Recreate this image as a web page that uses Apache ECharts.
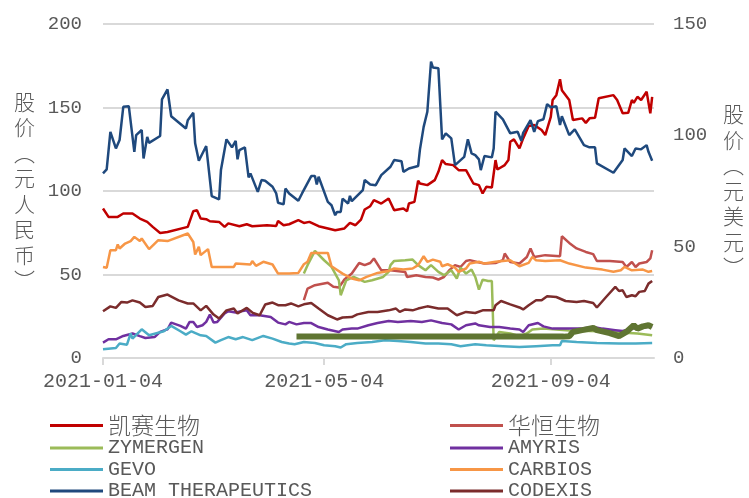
<!DOCTYPE html>
<html>
<head>
<meta charset="utf-8">
<script src="https://cdn.jsdelivr.net/npm/echarts@6/dist/echarts.min.js"></script>
<style>
  html, body { margin: 0; padding: 0; background: #fff; }
  #chart { width: 749px; height: 498px; }
</style>
</head>
<body>
<div id="chart"></div>
<script>
// x tick labels
const tickDates = ['2021-01-04', '2021-05-04', '2021-09-04'];

// left axis (RMB)
const kaisai = [['2021-01-04',89.5],['2021-01-07',84.5],['2021-01-12',84.5],['2021-01-15',86.5],['2021-01-20',86.5],['2021-01-24',83.5],['2021-01-28',81.5],['2021-01-31',78.5],['2021-02-04',74.9],['2021-02-08',75.5],['2021-02-19',78.5],['2021-02-22',87.9],['2021-02-24',88.5],['2021-02-26',83.5],['2021-03-01',83.1],['2021-03-03',81.9],['2021-03-08',81.5],['2021-03-11',78.5],['2021-03-13',80.6],['2021-03-19',78.9],['2021-03-23',80.1],['2021-03-26',78.9],['2021-04-03',79.5],['2021-04-08',79.1],['2021-04-09',82.1],['2021-04-12',79.5],['2021-04-15',80.1],['2021-04-20',82.5],['2021-04-23',80.9],['2021-04-26',81.5],['2021-05-01',78.9],['2021-05-10',76.5],['2021-05-15',77.6],['2021-05-18',80.9],['2021-05-21',79.5],['2021-05-24',82.9],['2021-05-26',88.9],['2021-05-29',90.9],['2021-05-31',94.5],['2021-06-04',92.5],['2021-06-08',95.5],['2021-06-11',88.5],['2021-06-16',89.5],['2021-06-18',87.9],['2021-06-19',92.5],['2021-06-22',93.5],['2021-06-24',106.1],['2021-06-25',104.5],['2021-06-29',103.5],['2021-07-03',106.5],['2021-07-05',111.5],['2021-07-07',118.5],['2021-07-09',116.1],['2021-07-13',115.5],['2021-07-16',112.5],['2021-07-20',112.5],['2021-07-24',104.5],['2021-07-27',103.5],['2021-07-29',98.5],['2021-07-31',102.5],['2021-08-03',102.1],['2021-08-05',118.5],['2021-08-06',112.9],['2021-08-10',115.5],['2021-08-12',118.5],['2021-08-13',129.5],['2021-08-15',130.9],['2021-08-18',125.5],['2021-08-20',131.5],['2021-08-23',138.9],['2021-08-26',139.5],['2021-08-30',136.5],['2021-09-01',133.5],['2021-09-04',144.4],['2021-09-05',154.5],['2021-09-07',157.4],['2021-09-09',166.9],['2021-09-10',160.4],['2021-09-14',154.5],['2021-09-16',142.5],['2021-09-21',143.5],['2021-09-23',140.8],['2021-09-25',143.5],['2021-09-28',143.8],['2021-09-30',155.5],['2021-10-08',157.4],['2021-10-10',154.5],['2021-10-13',146.5],['2021-10-16',146.8],['2021-10-18',154.5],['2021-10-19',152.8],['2021-10-21',156.4],['2021-10-23',154.5],['2021-10-26',159.4],['2021-10-28',146.5],['2021-10-29',156.4]];

const huaheng = [['2021-04-23',34.6],['2021-04-25',41.6],['2021-04-27',42.6],['2021-04-29',43.6],['2021-05-06',45.0],['2021-05-09',42.6],['2021-05-12',42.2],['2021-05-15',47.0],['2021-05-19',50.6],['2021-05-23',56.9],['2021-05-26',55.6],['2021-05-29',56.9],['2021-05-31',59.6],['2021-06-04',52.6],['2021-06-09',52.6],['2021-06-17',51.5],['2021-06-18',48.5],['2021-06-23',49.6],['2021-06-28',48.5],['2021-07-02',48.2],['2021-07-05',47.0],['2021-07-08',48.5],['2021-07-11',52.6],['2021-07-14',55.6],['2021-07-17',54.5],['2021-07-20',58.1],['2021-07-22',58.6],['2021-07-26',57.5],['2021-07-30',56.6],['2021-08-05',56.9],['2021-08-09',58.6],['2021-08-10',62.6],['2021-08-13',57.5],['2021-08-18',56.6],['2021-08-22',60.5],['2021-08-24',65.6],['2021-08-26',60.5],['2021-09-01',61.6],['2021-09-09',61.0],['2021-09-10',72.9],['2021-09-14',68.9],['2021-09-18',65.6],['2021-09-23',63.5],['2021-09-27',62.2],['2021-09-29',58.1],['2021-10-06',58.1],['2021-10-13',57.5],['2021-10-15',54.5],['2021-10-18',57.5],['2021-10-20',54.5],['2021-10-22',56.6],['2021-10-26',57.5],['2021-10-28',59.6],['2021-10-29',64.5]];

// right axis (USD)
const zymergen = [['2021-04-23',37.9],['2021-04-25',41.7],['2021-04-29',48.1],['2021-05-04',43.9],['2021-05-08',40.9],['2021-05-12',34.9],['2021-05-13',28.2],['2021-05-16',34.9],['2021-05-20',36.4],['2021-05-26',34.2],['2021-05-30',34.9],['2021-06-05',36.4],['2021-06-08',38.7],['2021-06-09',41.7],['2021-06-11',43.6],['2021-06-17',43.9],['2021-06-21',44.2],['2021-06-24',41.7],['2021-06-28',39.4],['2021-07-01',41.7],['2021-07-05',38.7],['2021-07-08',37.2],['2021-07-12',39.4],['2021-07-15',35.7],['2021-07-17',40.6],['2021-07-20',37.9],['2021-07-23',39.7],['2021-07-25',36.4],['2021-07-27',30.7],['2021-07-29',35.2],['2021-08-01',34.6],['2021-08-03',34.6],['2021-08-04',8.0],['2021-08-07',11.7],['2021-08-13',11.0],['2021-08-18',9.8],['2021-08-22',11.0],['2021-08-25',12.8],['2021-08-31',13.2],['2021-09-14',12.4],['2021-09-30',12.0],['2021-10-12',11.5],['2021-10-21',11.0],['2021-10-29',10.2]];

const amyris = [['2021-01-04',6.9],['2021-01-07',8.4],['2021-01-11',8.4],['2021-01-15',9.9],['2021-01-20',11.0],['2021-01-24',9.8],['2021-01-27',9.0],['2021-02-01',9.4],['2021-02-04',11.7],['2021-02-08',12.9],['2021-02-10',15.9],['2021-02-15',14.4],['2021-02-18',13.2],['2021-02-20',16.2],['2021-02-22',16.2],['2021-02-24',13.9],['2021-02-27',14.7],['2021-03-01',16.2],['2021-03-03',19.5],['2021-03-05',15.9],['2021-03-07',16.2],['2021-03-11',20.0],['2021-03-13',21.0],['2021-03-17',20.4],['2021-03-20',21.0],['2021-03-23',21.4],['2021-03-25',19.2],['2021-03-30',19.2],['2021-04-05',18.4],['2021-04-09',15.9],['2021-04-13',15.1],['2021-04-15',16.2],['2021-04-19',15.1],['2021-04-23',15.7],['2021-04-27',15.7],['2021-05-01',13.9],['2021-05-06',12.8],['2021-05-12',11.7],['2021-05-14',12.8],['2021-05-19',13.2],['2021-05-22',13.2],['2021-05-28',14.7],['2021-06-02',15.7],['2021-06-08',16.6],['2021-06-13',16.2],['2021-06-20',16.6],['2021-06-26',16.2],['2021-07-01',16.9],['2021-07-07',15.7],['2021-07-12',15.1],['2021-07-16',12.8],['2021-07-20',14.7],['2021-07-25',15.5],['2021-07-27',14.7],['2021-08-02',13.9],['2021-08-07',13.9],['2021-08-13',13.2],['2021-08-18',12.8],['2021-08-20',11.7],['2021-08-23',14.7],['2021-08-28',15.7],['2021-08-31',14.2],['2021-09-05',13.2],['2021-09-14',13.2],['2021-09-21',13.2],['2021-09-27',13.9],['2021-10-02',13.2],['2021-10-09',12.5],['2021-10-13',12.1],['2021-10-18',13.2],['2021-10-24',13.7],['2021-10-29',14.2]];

const gevo = [['2021-01-04',3.9],['2021-01-11',4.5],['2021-01-13',6.5],['2021-01-17',6.0],['2021-01-19',11.0],['2021-01-20',8.7],['2021-01-25',12.9],['2021-01-29',10.2],['2021-02-06',12.0],['2021-02-10',14.4],['2021-02-15',12.0],['2021-02-18',10.5],['2021-02-21',12.0],['2021-02-26',10.2],['2021-03-01',9.9],['2021-03-06',6.9],['2021-03-09',8.0],['2021-03-13',9.4],['2021-03-17',8.4],['2021-03-21',9.4],['2021-03-26',8.0],['2021-04-01',9.9],['2021-04-06',8.7],['2021-04-11',7.2],['2021-04-15',6.5],['2021-04-18',6.2],['2021-04-23',7.2],['2021-04-29',6.7],['2021-05-04',5.7],['2021-05-10',5.3],['2021-05-13',4.7],['2021-05-16',6.2],['2021-05-22',6.7],['2021-05-30',7.2],['2021-06-06',8.0],['2021-06-13',7.6],['2021-06-20',7.2],['2021-06-28',6.5],['2021-07-05',6.5],['2021-07-12',6.2],['2021-07-17',5.3],['2021-07-25',6.2],['2021-07-31',5.7],['2021-08-09',5.3],['2021-08-18',4.9],['2021-08-27',5.3],['2021-09-05',5.7],['2021-09-09',5.7],['2021-09-10',7.6],['2021-09-18',7.2],['2021-09-29',6.7],['2021-10-11',6.5],['2021-10-20',6.5],['2021-10-29',6.7]];

const carbios = [['2021-01-04',40.9],['2021-01-06',40.5],['2021-01-08',48.4],['2021-01-11',48.4],['2021-01-12',51.0],['2021-01-13',49.2],['2021-01-16',51.4],['2021-01-19',52.5],['2021-01-21',54.4],['2021-01-24',52.5],['2021-01-25',53.7],['2021-01-29',48.9],['2021-02-03',52.9],['2021-02-08',52.5],['2021-02-19',55.9],['2021-02-22',52.1],['2021-02-23',46.5],['2021-02-25',49.9],['2021-02-26',46.2],['2021-03-02',48.9],['2021-03-04',40.9],['2021-03-16',40.9],['2021-03-17',42.4],['2021-03-25',42.0],['2021-03-26',43.5],['2021-03-28',41.4],['2021-04-01',43.2],['2021-04-06',42.0],['2021-04-09',37.9],['2021-04-15',37.9],['2021-04-20',38.2],['2021-04-23',42.1],['2021-04-25',43.2],['2021-04-27',47.2],['2021-05-06',47.2],['2021-05-08',41.2],['2021-05-14',37.9],['2021-05-19',35.7],['2021-05-23',34.9],['2021-05-27',36.4],['2021-06-02',38.2],['2021-06-08',39.1],['2021-06-11',40.2],['2021-06-16',39.7],['2021-06-21',40.2],['2021-06-24',41.7],['2021-06-27',45.7],['2021-06-29',43.2],['2021-07-02',44.2],['2021-07-06',43.2],['2021-07-07',41.2],['2021-07-10',42.1],['2021-07-14',40.6],['2021-07-16',38.7],['2021-07-20',40.2],['2021-07-22',42.4],['2021-07-27',43.2],['2021-07-30',42.4],['2021-08-05',43.2],['2021-08-13',43.9],['2021-08-18',41.2],['2021-08-23',42.7],['2021-08-25',45.4],['2021-08-27',43.9],['2021-09-01',43.6],['2021-09-09',43.9],['2021-09-14',42.4],['2021-09-23',40.6],['2021-10-02',39.7],['2021-10-08',38.7],['2021-10-12',39.4],['2021-10-14',40.9],['2021-10-18',39.4],['2021-10-24',39.7],['2021-10-27',38.7],['2021-10-29',39.1]];

const beam = [['2021-01-04',82.9],['2021-01-06',84.7],['2021-01-08',101.6],['2021-01-11',94.1],['2021-01-13',97.9],['2021-01-15',112.8],['2021-01-18',113.1],['2021-01-21',92.6],['2021-01-22',100.1],['2021-01-25',102.4],['2021-01-26',89.6],['2021-01-28',99.3],['2021-01-29',96.6],['2021-02-04',99.7],['2021-02-05',116.2],['2021-02-08',120.6],['2021-02-10',108.6],['2021-02-18',103.1],['2021-02-19',106.8],['2021-02-22',110.1],['2021-02-23',96.4],['2021-02-25',88.6],['2021-03-01',95.2],['2021-03-04',72.7],['2021-03-08',71.2],['2021-03-09',84.4],['2021-03-12',98.2],['2021-03-15',94.6],['2021-03-17',97.5],['2021-03-18',89.2],['2021-03-19',93.4],['2021-03-22',94.6],['2021-03-24',81.1],['2021-03-25',82.9],['2021-03-29',74.6],['2021-03-31',79.9],['2021-04-02',79.6],['2021-04-06',76.9],['2021-04-08',73.9],['2021-04-09',69.7],['2021-04-12',69.0],['2021-04-13',76.1],['2021-04-15',73.9],['2021-04-16',73.1],['2021-04-20',70.6],['2021-04-22',73.9],['2021-04-27',81.7],['2021-04-29',81.7],['2021-04-30',77.9],['2021-05-01',81.4],['2021-05-06',70.1],['2021-05-08',68.6],['2021-05-10',64.1],['2021-05-11',65.6],['2021-05-13',65.6],['2021-05-14',71.6],['2021-05-17',69.4],['2021-05-18',72.8],['2021-05-19',70.4],['2021-05-25',75.4],['2021-05-26',79.9],['2021-05-29',77.9],['2021-06-01',77.6],['2021-06-04',82.1],['2021-06-09',85.9],['2021-06-11',88.9],['2021-06-15',88.4],['2021-06-16',83.6],['2021-06-19',85.1],['2021-06-24',86.2],['2021-06-25',93.7],['2021-06-27',103.8],['2021-06-29',110.6],['2021-07-01',133.1],['2021-07-02',130.5],['2021-07-05',130.1],['2021-07-07',98.2],['2021-07-09',100.9],['2021-07-12',98.6],['2021-07-14',86.6],['2021-07-16',88.1],['2021-07-19',90.3],['2021-07-21',98.2],['2021-07-23',91.9],['2021-07-25',91.1],['2021-07-27',89.2],['2021-07-28',84.4],['2021-07-30',90.7],['2021-08-03',90.1],['2021-08-04',94.1],['2021-08-05',110.6],['2021-08-09',107.2],['2021-08-10',107.6],['2021-08-13',100.9],['2021-08-17',101.6],['2021-08-19',97.5],['2021-08-20',101.1],['2021-08-24',106.8],['2021-08-26',101.6],['2021-08-28',106.4],['2021-08-31',107.2],['2021-09-02',114.0],['2021-09-04',112.6],['2021-09-07',113.1],['2021-09-09',104.6],['2021-09-10',108.6],['2021-09-14',100.1],['2021-09-17',102.7],['2021-09-22',95.6],['2021-09-25',94.6],['2021-09-28',94.6],['2021-09-29',87.4],['2021-10-08',83.2],['2021-10-13',88.9],['2021-10-14',94.1],['2021-10-18',90.7],['2021-10-20',94.1],['2021-10-23',93.7],['2021-10-26',95.6],['2021-10-27',92.6],['2021-10-29',88.6]];

const codexis = [['2021-01-04',21.0],['2021-01-08',23.2],['2021-01-11',22.5],['2021-01-14',25.2],['2021-01-17',24.9],['2021-01-20',25.9],['2021-01-24',24.9],['2021-01-27',22.9],['2021-01-31',23.4],['2021-02-03',27.4],['2021-02-08',28.5],['2021-02-14',25.9],['2021-02-19',24.5],['2021-02-22',24.5],['2021-02-26',21.4],['2021-03-01',23.4],['2021-03-05',19.5],['2021-03-08',17.7],['2021-03-12',21.4],['2021-03-16',22.2],['2021-03-18',20.0],['2021-03-23',22.5],['2021-03-26',20.4],['2021-03-30',19.2],['2021-04-02',24.0],['2021-04-06',24.9],['2021-04-09',23.7],['2021-04-13',23.7],['2021-04-16',24.5],['2021-04-20',23.2],['2021-04-23',24.1],['2021-04-27',24.7],['2021-05-01',22.2],['2021-05-06',19.2],['2021-05-11',17.3],['2021-05-14',18.2],['2021-05-19',18.4],['2021-05-22',19.6],['2021-05-28',20.7],['2021-06-02',20.7],['2021-06-08',21.4],['2021-06-12',22.2],['2021-06-14',20.7],['2021-06-17',21.8],['2021-06-21',21.4],['2021-06-24',22.2],['2021-06-29',23.2],['2021-07-05',22.2],['2021-07-10',22.2],['2021-07-15',19.2],['2021-07-20',20.7],['2021-07-25',20.2],['2021-07-29',21.4],['2021-08-04',21.4],['2021-08-05',23.7],['2021-08-08',25.6],['2021-08-13',24.1],['2021-08-18',22.7],['2021-08-20',21.8],['2021-08-23',23.7],['2021-08-27',25.9],['2021-08-30',25.9],['2021-09-02',27.7],['2021-09-07',27.4],['2021-09-12',25.6],['2021-09-18',25.2],['2021-09-22',25.6],['2021-09-27',24.7],['2021-09-29',22.7],['2021-10-04',27.4],['2021-10-09',31.9],['2021-10-11',30.1],['2021-10-13',30.4],['2021-10-15',27.4],['2021-10-18',28.2],['2021-10-20',27.7],['2021-10-22',29.7],['2021-10-25',30.1],['2021-10-27',33.4],['2021-10-29',34.6]];

const ginkgo = [['2021-04-19',9.6],['2021-05-20',9.6],['2021-06-20',9.6],['2021-07-20',9.6],['2021-08-20',9.6],['2021-09-11',9.6],['2021-09-14',9.8],['2021-09-16',11.7],['2021-09-21',12.5],['2021-09-27',13.5],['2021-09-29',12.5],['2021-10-06',11.2],['2021-10-11',9.8],['2021-10-15',11.7],['2021-10-19',14.7],['2021-10-21',13.2],['2021-10-24',14.2],['2021-10-27',14.7],['2021-10-29',13.9]];

const textColor = '#595959';
const gridColor = '#d9d9d9';
const monoFont = '"Liberation Mono", "Noto Sans CJK SC", monospace';
const cjkFont = '"Noto Sans CJK SC", sans-serif';

function toTime(s) {
  const p = s.split('-');
  return new Date(+p[0], +p[1] - 1, +p[2]).getTime();
}

function pad(n) {
  return (n < 10 ? '0' : '') + n;
}

function line(name, data, color, yAxisIndex, width) {
  return {
    name: name,
    type: 'line',
    yAxisIndex: yAxisIndex,
    data: data.map(d => [toTime(d[0]), d[1]]),
    symbol: 'none',
    showSymbol: false,
    lineStyle: { color: color, width: width || 2.5 },
    itemStyle: { color: color }
  };
}

const chart = echarts.init(document.getElementById('chart'), null, { renderer: 'canvas' });

const legendBase = {
  orient: 'vertical',
  top: 414,
  height: 200,
  icon: 'rect',
  itemWidth: 53,
  itemHeight: 3,
  itemGap: 0.5,
  selectedMode: false,
  padding: 0,
  formatter: function (name) {
    return /^[A-Z ]+$/.test(name) ? name : '{cn|' + name + '}';
  },
  textStyle: {
    fontFamily: monoFont,
    fontSize: 20,
    color: textColor,
    lineHeight: 21,
    rich: {
      cn: { fontFamily: cjkFont, fontSize: 23, fontWeight: 300, color: textColor, lineHeight: 21 }
    }
  }
};

const xTicks = tickDates.map(toTime);

chart.setOption({
  backgroundColor: '#ffffff',
  animation: false,
  grid: { left: 103, right: 95, top: 24, bottom: 140, containLabel: false, outerBoundsMode: 'none' },
  legend: [
    Object.assign({}, legendBase, {
      left: 50,
      data: ['凯赛生物', 'ZYMERGEN', 'GEVO', 'BEAM THERAPEUTICS', 'GINKGO BIOWORKS']
    }),
    Object.assign({}, legendBase, {
      left: 450,
      data: ['华恒生物', 'AMYRIS', 'CARBIOS', 'CODEXIS']
    })
  ],
  xAxis: {
    type: 'value',
    min: toTime('2021-01-04'),
    max: toTime('2021-10-30'),
    axisLine: { show: true, onZero: false, lineStyle: { color: gridColor, width: 2 } },
    axisTick: {
      show: true,
      length: 7,
      lineStyle: { color: gridColor, width: 2 },
      customValues: xTicks
    },
    axisLabel: {
      customValues: xTicks,
      margin: 14,
      color: textColor,
      fontSize: 20,
      fontFamily: monoFont,
      formatter: function (v) {
        const d = new Date(v);
        return d.getFullYear() + '-' + pad(d.getMonth() + 1) + '-' + pad(d.getDate());
      }
    },
    splitLine: { show: false }
  },
  yAxis: [
    {
      type: 'value',
      min: 0,
      max: 200,
      interval: 50,
      name: '股\n价\n︵\n元\n人\n民\n币\n︶',
      nameLocation: 'middle',
      nameRotate: 0,
      nameGap: 68,
      nameTextStyle: { fontFamily: cjkFont, fontSize: 21, fontWeight: 300, color: textColor, lineHeight: 25.5 },
      axisLine: { show: false },
      axisTick: { show: false },
      axisLabel: { margin: 21, color: textColor, fontSize: 19, fontFamily: monoFont },
      splitLine: { show: true, lineStyle: { color: gridColor, width: 2 } }
    },
    {
      type: 'value',
      min: 0,
      max: 150,
      interval: 50,
      name: '股\n价\n︵\n元\n美\n元\n︶',
      nameLocation: 'middle',
      nameRotate: 0,
      nameGap: 69,
      nameTextStyle: { fontFamily: cjkFont, fontSize: 21, fontWeight: 300, color: textColor, lineHeight: 25.5 },
      axisLine: { show: false },
      axisTick: { show: false },
      axisLabel: { margin: 19, color: textColor, fontSize: 19, fontFamily: monoFont },
      splitLine: { show: false }
    }
  ],
  series: [
    line('凯赛生物', kaisai, '#c00000', 0),
    line('华恒生物', huaheng, '#c0504d', 0),
    line('ZYMERGEN', zymergen, '#9bbb59', 1),
    line('AMYRIS', amyris, '#7030a0', 1),
    line('GEVO', gevo, '#4bacc6', 1),
    line('CARBIOS', carbios, '#f79646', 1),
    line('BEAM THERAPEUTICS', beam, '#1f497d', 1),
    line('CODEXIS', codexis, '#7b2c2c', 1),
    line('GINKGO BIOWORKS', ginkgo, '#5f7532', 1, 6)
  ]
});
</script>
</body>
</html>
